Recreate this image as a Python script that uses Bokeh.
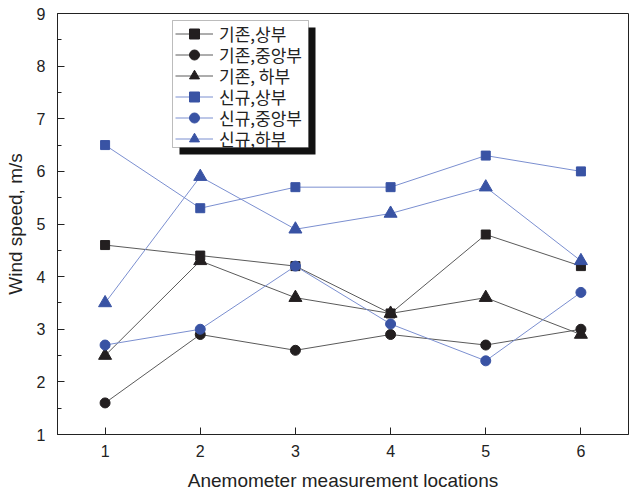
from bokeh.plotting import figure
from bokeh.models import Legend, LegendItem, BoxAnnotation, FixedTicker, Range1d
from bokeh.embed import file_html
from bokeh.resources import INLINE

locations = [1, 2, 3, 4, 5, 6]
old_upper = [4.6, 4.4, 4.2, 3.3, 4.8, 4.2]
old_middle = [1.6, 2.9, 2.6, 2.9, 2.7, 3.0]
old_lower = [2.5, 4.3, 3.6, 3.3, 3.6, 2.9]
new_upper = [6.5, 5.3, 5.7, 5.7, 6.3, 6.0]
new_middle = [2.7, 3.0, 4.2, 3.1, 2.4, 3.7]
new_lower = [3.5, 5.9, 4.9, 5.2, 5.7, 4.3]
labels = ["기존,상부", "기존,중앙부", "기존, 하부", "신규,상부", "신규,중앙부", "신규,하부"]

BLACK = "#231f20"
BLACK_LINE = "#5a5a5a"
BLUE = "#3953a4"
BLUE_LINE = "#7b8fd0"

FRAME_TOP = 13
FRAME_BOTTOM = 434

p = figure(width=630, height=494, output_backend="svg", toolbar_location=None,
           x_range=Range1d(0.5, 6.5), y_range=Range1d(1, 9),
           min_border_left=57, min_border_right=2, min_border_top=FRAME_TOP,
           min_border_bottom=494 - FRAME_BOTTOM)
p.grid.visible = False
p.outline_line_color = "#222222"
p.outline_line_width = 1
p.background_fill_color = "white"
p.border_fill_color = "white"

series = [
    (old_upper, "square", BLACK, BLACK_LINE, 9),
    (old_middle, "circle", BLACK, BLACK_LINE, 10),
    (old_lower, "triangle", BLACK, BLACK_LINE, 13),
    (new_upper, "square", BLUE, BLUE_LINE, 9),
    (new_middle, "circle", BLUE, BLUE_LINE, 10),
    (new_lower, "triangle", BLUE, BLUE_LINE, 13),
]
items = []
for (ys, marker, mc, lc, sz), lab in zip(series, labels):
    r1 = p.line(locations, ys, line_color=lc, line_width=1)
    r2 = p.scatter(locations, ys, marker=marker, size=sz, fill_color=mc, line_color=mc)
    items.append(LegendItem(label=lab, renderers=[r1, r2]))

# Axes styling
for ax in (p.xaxis[0], p.yaxis[0]):
    ax.axis_line_color = "#222222"
    ax.major_tick_in = 7
    ax.major_tick_out = 0
    ax.minor_tick_in = 4
    ax.minor_tick_out = 0
    ax.major_tick_line_color = "#222222"
    ax.minor_tick_line_color = "#222222"
    ax.major_label_text_font = "Liberation Sans"
    ax.major_label_text_font_size = "16px"
    ax.major_label_text_color = "#222222"
    ax.axis_label_text_font = "Liberation Sans"
    ax.axis_label_text_font_size = "19px"
    ax.axis_label_text_font_style = "normal"
    ax.axis_label_text_color = "#222222"

p.xaxis.ticker = FixedTicker(ticks=locations)
p.xaxis.minor_tick_line_color = None
p.yaxis.ticker = FixedTicker(ticks=list(range(1, 10)), minor_ticks=[x + 0.5 for x in range(1, 9)])
p.xaxis.axis_label = "Anemometer measurement locations"
p.yaxis.axis_label = "Wind speed, m/s"
p.xaxis.major_label_standoff = 10
p.xaxis.axis_label_standoff = 10
p.yaxis.major_label_standoff = 12
p.yaxis.axis_label_standoff = 8

# legend frame + drop shadow (screen units relative to the frame's bottom-left)
box_left, box_right, box_top, box_bottom = 115, 251, FRAME_BOTTOM - 20, FRAME_BOTTOM - 147
shadow = BoxAnnotation(left=box_left + 7, right=box_right + 7, top=box_top - 7, bottom=box_bottom - 7,
                       left_units="screen", right_units="screen",
                       top_units="screen", bottom_units="screen",
                       fill_color="#111111", fill_alpha=1.0, line_color=None)
box = BoxAnnotation(left=box_left, right=box_right, top=box_top, bottom=box_bottom,
                    left_units="screen", right_units="screen",
                    top_units="screen", bottom_units="screen",
                    fill_color="white", fill_alpha=1.0, line_color="#222222", line_width=1)
p.add_layout(shadow)
p.add_layout(box)

# one single-row legend per entry so that row spacing matches the reference
row_h = 25
first_center = 33.5
row_step = 20.9
for i, it in enumerate(items):
    center = first_center + row_step * i
    lg = Legend(items=[it], location=(118, FRAME_BOTTOM - center - row_h / 2))
    lg.label_text_font = "Noto Sans CJK KR"
    lg.label_text_font_size = "17px"
    lg.label_text_color = "#222222"
    lg.border_line_color = None
    lg.background_fill_alpha = 0.0
    lg.glyph_width = 38
    lg.glyph_height = row_h
    lg.label_height = row_h
    lg.spacing = 0
    lg.padding = 0
    lg.margin = 0
    lg.label_standoff = 6
    p.add_layout(lg)

open("out.html", "w").write(file_html(p, INLINE))
